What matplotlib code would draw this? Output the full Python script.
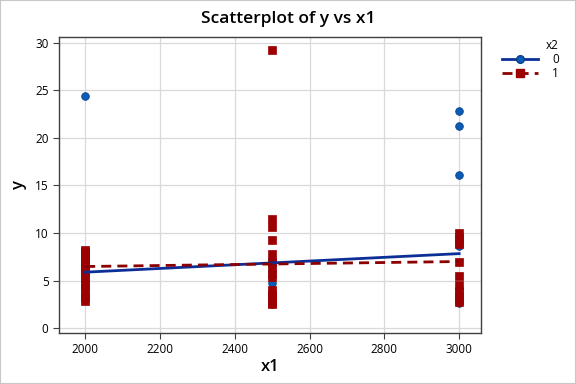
import numpy as np
import matplotlib
matplotlib.use("Agg")
import matplotlib.pyplot as plt
from matplotlib.lines import Line2D

# data
x_levels = [2000, 2500, 3000]
y0_2000 = [24.4, 7.8, 5.6, 4.4, 4.2, 3.0, 3.5, 3.1, 7.0, 6.0]
y0_2500 = [6.7, 4.7, 3.8, 3.4, 3.0, 2.5, 7.2, 6.0, 5.5, 5.5]
y0_3000 = [22.8, 21.2, 16.1, 8.6, 3.8, 3.4, 3.0, 2.8, 2.6, 4.2]
y1_2000 = [8.2, 8.0, 8.0, 7.7, 7.6, 7.4, 7.2, 7.0, 6.9, 6.6, 6.2, 5.8, 5.3, 4.8, 4.3, 3.8, 3.3, 2.9]
y1_2500 = [29.2, 11.5, 10.6, 9.3, 7.8, 7.0, 6.2, 5.4, 4.0, 3.6, 3.2, 2.8, 2.6, 2.5]
y1_3000 = [10.0, 9.6, 9.2, 8.8, 7.0, 5.5, 4.5, 3.8, 3.3, 2.7]
legend_title = "x2"
group_labels = ["0", "1"]
x_ticks = [2000, 2200, 2400, 2600, 2800, 3000]
y_ticks = [0, 5, 10, 15, 20, 25, 30]

def build(groups):
    xs, ys = [], []
    for xv, g in zip(x_levels, groups):
        xs += [xv] * len(g)
        ys += g
    return np.array(xs, float), np.array(ys, float)

x0, y0 = build([y0_2000, y0_2500, y0_3000])
x1, y1 = build([y1_2000, y1_2500, y1_3000])

plt.rcParams['font.family'] = ['Open Sans', 'DejaVu Sans']
fig = plt.figure(figsize=(5.76, 3.84), dpi=100)
ax = fig.add_axes([0.1024, 0.133, 0.733, 0.7706])

blue_m = '#0a5cb8'
blue_l = '#0b2f96'
red_m = '#9c0000'
red_l = '#8b0000'

ax.scatter(x0, y0, s=30, marker='o', color=blue_m, edgecolors='#08408a', linewidths=0.6, zorder=3)
ax.scatter(x1, y1, s=34, marker='s', color=red_m, edgecolors=red_m, linewidths=0.5, zorder=4)

xx = np.array([2000, 3000])
b0 = np.polyfit(x0, y0, 1)
b1 = np.polyfit(x1, y1, 1)
ax.plot(xx, np.polyval(b0, xx), color=blue_l, lw=2, zorder=5)
ax.plot(xx, np.polyval(b1, xx), color=red_l, lw=2, ls=(0, (3.6, 2.2)), zorder=5)

ax.set_xlim(1930, 3059)
ax.set_ylim(-0.5, 30.6)
ax.set_xticks(x_ticks)
ax.set_yticks(y_ticks)
ax.grid(True, color='#d9d9d9', lw=0.9)
ax.set_axisbelow(True)
for s in ax.spines.values():
    s.set_color('#404040')
    s.set_linewidth(1)
ax.tick_params(axis='both', labelsize=8.5, length=4, color='#404040', direction='out')
ax.set_xlabel('x1', fontsize=12, fontweight='semibold', labelpad=2)
ax.set_ylabel('y', fontsize=12, fontweight='semibold', labelpad=6)
fig.text(0.5, 0.95, 'Scatterplot of y vs x1', ha='center', va='center',
         fontsize=12.5, fontweight='semibold')

handles = [Line2D([0], [0], color=blue_l, lw=2, marker='o', markersize=5.5,
                  markerfacecolor=blue_m, markeredgecolor='#08408a'),
           Line2D([0], [0], color=red_l, lw=2, ls=(0, (3.6, 2.2)), marker='s', markersize=5.5,
                  markerfacecolor=red_m, markeredgecolor=red_m)]
leg = fig.legend(handles, group_labels, title=legend_title, loc='upper left',
                 bbox_to_anchor=(0.862, 0.915), frameon=False, fontsize=8.5,
                 title_fontsize=8.5, handlelength=3, handletextpad=1.2,
                 labelspacing=0.1, borderpad=0)
leg._legend_box.align = 'right'

fig.patches.append(plt.Rectangle((0, 0), 1, 1, transform=fig.transFigure,
                                 fill=False, edgecolor='#c8c8c8', lw=1.5))
fig.savefig('out.png', dpi=100)
